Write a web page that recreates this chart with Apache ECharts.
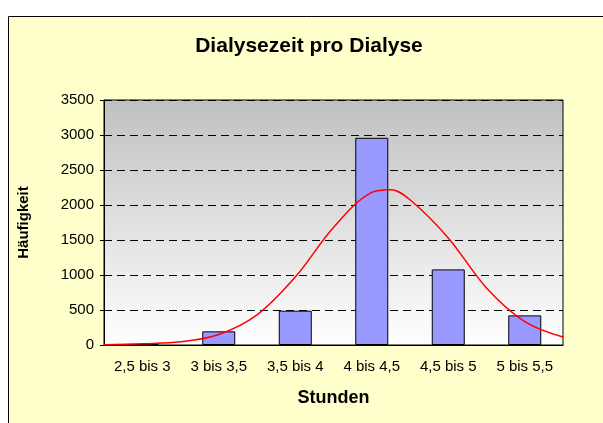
<!DOCTYPE html>
<html>
<head>
<meta charset="utf-8">
<script src="https://cdn.jsdelivr.net/npm/echarts@6/dist/echarts.min.js"></script>
<style>html,body{margin:0;padding:0;background:#fff;}#c{width:603px;height:423px;}</style>
</head>
<body>
<div id="c"></div>
<script>
var categories = ['2,5 bis 3', '3 bis 3,5', '3,5 bis 4', '4 bis 4,5', '4,5 bis 5', '5 bis 5,5'];
var counts = [15, 195, 490, 2960, 1080, 423];
var curveHours = [2.5, 2.75, 3.0, 3.25, 3.5, 3.75, 4.0, 4.25, 4.375, 4.5, 4.75, 5.0, 5.25, 5.5];
var curveValues = [3, 18, 45, 150, 430, 970, 1680, 2180, 2219, 2075, 1530, 815, 335, 114];
var yTicks = [0, 500, 1000, 1500, 2000, 2500, 3000, 3500];

var curveData = curveHours.map(function (h, i) { return [h, curveValues[i]]; });
var font = 'Liberation Sans, Arial, sans-serif';

var chart = echarts.init(document.getElementById('c'), null, {renderer: 'canvas'});
chart.setOption({
  backgroundColor: '#ffffff',
  animation: false,
  graphic: [{
    type: 'rect', z: -10, silent: true,
    shape: {x: 8.5, y: 16.5, width: 620, height: 430},
    style: {fill: '#FFFFCC', stroke: '#000000', lineWidth: 1}
  }],
  title: {
    text: 'Dialysezeit pro Dialyse',
    left: 304, top: 31, textAlign: 'center',
    textStyle: {fontFamily: font, fontSize: 21, fontWeight: 'bold', color: '#000'}
  },
  grid: {
    left: 104, right: 40, top: 100, bottom: 78,
    show: true, borderColor: '#000', borderWidth: 1,
    backgroundColor: new echarts.graphic.LinearGradient(0, 0, 0, 1, [
      {offset: 0, color: '#C0C0C0'}, {offset: 1, color: '#FFFFFF'}
    ])
  },
  xAxis: [{
    type: 'category', data: categories,
    axisLine: {lineStyle: {color: '#000', width: 1}},
    axisTick: {length: 4, lineStyle: {color: '#000'}},
    axisLabel: {color: '#000', fontFamily: font, fontSize: 15, margin: 14},
    name: 'Stunden', nameLocation: 'middle', nameGap: 44,
    nameTextStyle: {fontFamily: font, fontSize: 18, fontWeight: 'bold', color: '#000'}
  }, {
    type: 'value', min: 2.5, max: 5.5, show: false
  }],
  yAxis: {
    type: 'value', min: yTicks[0], max: yTicks[yTicks.length - 1], interval: yTicks[1] - yTicks[0],
    axisLine: {show: true, lineStyle: {color: '#000', width: 1}},
    axisTick: {show: true, length: 4, lineStyle: {color: '#000'}},
    axisLabel: {color: '#000', fontFamily: font, fontSize: 15, margin: 10,
      formatter: function (v) { return String(v); }},
    splitLine: {show: true, lineStyle: {color: '#000', type: [8, 5], width: 1}},
    name: 'Häufigkeit', nameLocation: 'middle', nameGap: 73,
    nameTextStyle: {fontFamily: font, fontSize: 15, fontWeight: 'bold', color: '#000'}
  },
  series: [{
    type: 'bar', data: counts, xAxisIndex: 0, barWidth: 33,
    itemStyle: {color: '#9999FF', borderColor: '#000', borderWidth: 1}
  }, {
    type: 'line', data: curveData, xAxisIndex: 1, smooth: 0.35,
    symbol: 'none', lineStyle: {color: '#FF0000', width: 1.5}, z: 5
  }]
});
</script>
</body>
</html>
